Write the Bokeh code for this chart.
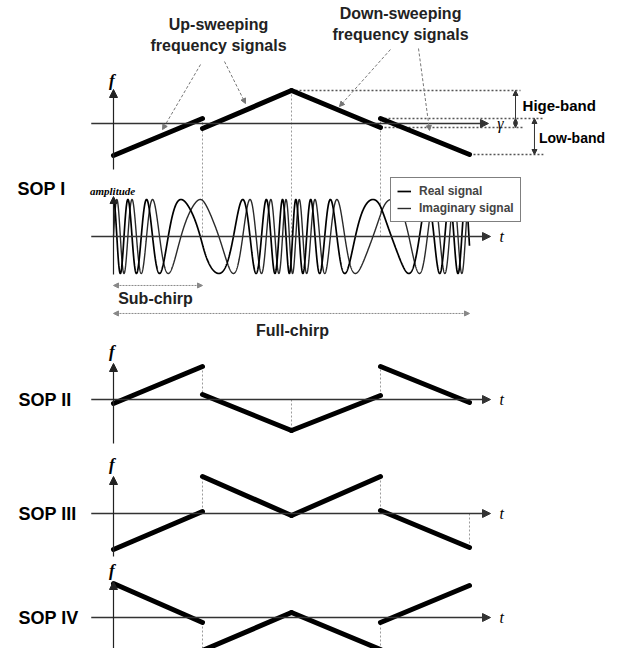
import numpy as np
from bokeh.plotting import figure
from bokeh.models import Range1d, ColumnDataSource, Arrow, NormalHead, Legend, LegendItem
from bokeh.core.properties import value
from bokeh.embed import file_html
from bokeh.resources import INLINE

# ---------------- data ----------------
sub_t0 = [0, 1, 2, 3]          # sub-chirp start times (sub-chirp units)
sub_t1 = [1, 2, 3, 4]          # sub-chirp end times
sop1_fs = [-32, -5, 33, 5]     # start frequency of each sub-chirp (a.u.)
sop1_fe = [5, 33, -4, -31]     # end frequency of each sub-chirp
sop2_fs = [-4, 5, -31, 33]
sop2_fe = [33, -31, 4, -3]
sop3_fs = [-36, 37, -2, 3]
sop3_fe = [2, -2, 37, -34]
sop4_fs = [34, -33, 5, -5]
sop4_fe = [-5, 5, -32, 32]
gamma_offset = 5               # frequency offset gamma (a.u.)
sop_labels = ["SOP I", "SOP II", "SOP III", "SOP IV"]
legend_labels = ["Real signal", "Imaginary signal"]
cycles_per_freq_unit = 0.21    # oscillations per sub-chirp per frequency unit

W, H = 608, 648
SANS = value("Liberation Sans")
SERIF = value("Liberation Serif")

p = figure(width=W, height=H, x_range=Range1d(-1.26966, 5.5618),
           y_range=Range1d(-525, 123), output_backend="svg",
           toolbar_location=None, x_axis_type=None, y_axis_type=None,
           min_border=0)
p.grid.visible = False
p.outline_line_color = None
p.background_fill_color = "white"
p.extra_y_ranges = {
    "s1": Range1d(-525, 123),
    "amp": Range1d(-11.135, 6.378),
    "s2": Range1d(-249, 399),
    "s3": Range1d(-135, 513),
    "s4": Range1d(-31, 617),
}

DOT = "#9a9a9a"


def arrows(rng, x0, y0, x1, y1, color="black", width=1.3, size=8, dash="solid",
           both=False):
    src = ColumnDataSource(dict(x0=x0, y0=y0, x1=x1, y1=y1))
    head = lambda: NormalHead(size=size, fill_color=color, line_color=color)
    a = Arrow(source=src, x_start="x0", y_start="y0", x_end="x1", y_end="y1",
              end=head(), start=head() if both else None,
              line_color=color, line_width=width, line_dash=dash,
              y_range_name=rng)
    p.add_layout(a)


def txt(rng, x, y, s, size, font=SANS, style="normal", align="left", color="black"):
    p.text(x=x, y=y, text=s, y_range_name=rng, text_font=font,
           text_font_size=size, text_font_style=style, text_align=align,
           text_baseline="middle", text_color=color)


def sop_panel(rng, fs, fe, ax_lo, ax_hi, f_y, label, base_end=4.236,
              t_label="t", extra_guides=None):
    gx = [1, 2, 3]
    gy0 = [fe[0], fe[1], fe[2]]
    gy1 = [fs[1], fs[2], fs[3]]
    if extra_guides:
        for (x, a, b) in extra_guides:
            gx.append(x); gy0.append(a); gy1.append(b)
    p.segment(x0=gx, y0=gy0, x1=gx, y1=gy1, y_range_name=rng,
              line_color=DOT, line_width=1, line_dash="2 2")
    arrows(rng, [-0.25], [0], [base_end], [0], color="#333333", width=1.5, size=8)
    arrows(rng, [0], [ax_lo], [0], [ax_hi], color="#222222", width=1.2, size=8)
    txt(rng, [-0.02], [f_y], ["f"], "17px", font=SERIF, style="bold italic", align="center")
    txt(rng, [base_end + 0.1], [0], [t_label], "16px", font=SERIF, style="italic")
    p.segment(x0=sub_t0, y0=fs, x1=sub_t1, y1=fe, y_range_name=rng,
              line_color="black", line_width=5, line_cap="round")
    if label:
        txt(rng, [-1.067], [0], [label], "18px", style="bold")


# ---------------- SOP I frequency panel ----------------
p.segment(x0=[1, 2, 3], y0=[sop1_fe[0], sop1_fe[1], sop1_fs[3]], x1=[1, 2, 3],
          y1=[-113, -113, -113], y_range_name="s1", line_color=DOT,
          line_width=1, line_dash="2 2")
p.segment(x0=[2, 3, 3, 4], y0=[sop1_fs[2], sop1_fs[3], sop1_fe[2], sop1_fe[3]],
          x1=[4.573, 4.83, 4.6, 4.83],
          y1=[sop1_fs[2], sop1_fs[3], sop1_fe[2], sop1_fe[3]],
          y_range_name="s1", line_color="#555555", line_width=1.3, line_dash="2 2")
arrows("s1", [4.517], [5], [4.517], [33], color="#333333", width=1, size=5)
arrows("s1", [4.517], [0.5], [4.517], [-4], color="#333333", width=1, size=4)
arrows("s1", [4.517], [0.5], [4.517], [5], color="#333333", width=1, size=4)
arrows("s1", [4.73], [-31], [4.73], [5], color="#333333", width=1, size=5, both=True)
txt("s1", [4.596], [18], ["Hige-band"], "15px", style="bold")
txt("s1", [4.78], [-14], ["Low-band"], "14px", style="bold")
sop_panel("s1", sop1_fs, sop1_fe, -46, 34, 43, None, base_end=4.213, t_label="γ")

arrows("s1", [0.978, 1.247, 3.112, 3.427], [59, 62, 74, 75],
       [0.551, 1.483, 2.539, 3.551], [-6, 20, 17, -7],
       color="#777777", width=1, size=5, dash="3 2")
txt("s1", [1.18, 1.18], [99, 78], ["Up-sweeping", "frequency signals"], "16px",
    style="bold", align="center", color="#222222")
txt("s1", [3.225, 3.225], [110, 89], ["Down-sweeping", "frequency signals"], "16px",
    style="bold", align="center", color="#222222")
txt("s1", [-1.079], [-65], [sop_labels[0]], "18px", style="bold")

# ---------------- amplitude panel ----------------
# chirp waveform of SOP I: oscillation rate follows the frequency sweep
tt, re_sig, im_sig = [], [], []
phase0 = 0.0
for k in range(4):
    tau = np.linspace(0, 1, 900)
    f = sop1_fs[k] + (sop1_fe[k] - sop1_fs[k]) * tau
    nu = cycles_per_freq_unit * np.hypot(f, gamma_offset)
    dph = 2 * np.pi * np.concatenate([[0], np.cumsum((nu[1:] + nu[:-1]) / 2 * np.diff(tau))])
    ph = phase0 + dph
    tt.append(sub_t0[k] + tau)
    re_sig.append(np.cos(ph))
    im_sig.append(np.sin(ph))
    phase0 = ph[-1]
tt = np.concatenate(tt)
re_sig = np.concatenate(re_sig)
im_sig = np.concatenate(im_sig)

arrows("amp", [-0.25], [0], [4.236], [0], color="#333333", width=1.5, size=8)
arrows("amp", [0], [-1.03], [0], [1.08], color="#222222", width=1.2, size=7)
r_im = p.line(tt, im_sig, y_range_name="amp", line_color="#2a2a2a", line_width=1.4)
r_re = p.line(tt, re_sig, y_range_name="amp", line_color="black", line_width=1.7)
txt("amp", [-0.01], [1.243], ["amplitude"], "11px", font=SERIF, style="bold italic", align="center")
txt("amp", [4.337], [0], ["t"], "16px", font=SERIF, style="italic")

arrows("amp", [0], [-1.324], [1], [-1.324], color="#888888", width=1, size=5, dash="2 1", both=True)
txt("amp", [0.472], [-1.676], ["Sub-chirp"], "16px", style="bold", align="center", color="#222222")
arrows("amp", [0], [-2.08], [4], [-2.08], color="#888888", width=1, size=5, dash="2 1", both=True)
txt("amp", [2.011], [-2.54], ["Full-chirp"], "16px", style="bold", align="center", color="#222222")

legend = Legend(items=[LegendItem(label=legend_labels[0], renderers=[r_re]),
                       LegendItem(label=legend_labels[1], renderers=[r_im])],
                location=(390, 426), background_fill_color="white",
                background_fill_alpha=1.0, border_line_color="black",
                border_line_width=1, label_text_font="Liberation Sans",
                label_text_font_style="bold", label_text_font_size="12px",
                glyph_width=14, glyph_height=12, label_height=12, spacing=3,
                padding=6, margin=0, label_standoff=8)
p.add_layout(legend, "center")

# ---------------- SOP II-IV ----------------
sop_panel("s2", sop2_fs, sop2_fe, -44, 36, 48, sop_labels[1],
          extra_guides=[(2, 0, sop2_fe[1])])
sop_panel("s3", sop3_fs, sop3_fe, -43, 37, 49, sop_labels[2],
          extra_guides=[(4, 0, sop3_fe[3])])
sop_panel("s4", sop4_fs, sop4_fe, -46, 36, 47, sop_labels[3])

open("out.html", "w").write(file_html(p, INLINE))
